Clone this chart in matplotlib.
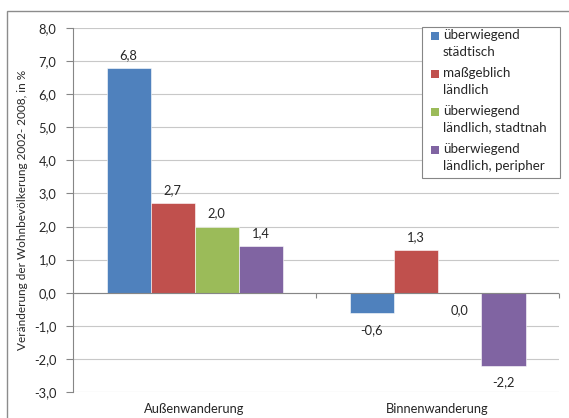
import matplotlib
matplotlib.use("Agg")
import matplotlib.pyplot as plt
from matplotlib.patches import Rectangle

plt.rcParams['font.family'] = ['Lato', 'DejaVu Sans']

categories = ["Außenwanderung", "Binnenwanderung"]
series_names = ["überwiegend\nstädtisch", "maßgeblich\nländlich",
                "überwiegend\nländlich, stadtnah", "überwiegend\nländlich, peripher"]
values = [
    [6.8, -0.6],
    [2.7, 1.3],
    [2.0, 0.0],
    [1.4, -2.2],
]
colors = ["#4F81BD", "#C0504D", "#9BBB59", "#8064A2"]
yticks = [-3, -2, -1, 0, 1, 2, 3, 4, 5, 6, 7, 8]
ylabel = "Veränderung der Wohnbevölkerung 2002- 2008, in %"

W, H = 569, 418
TXT = "#262626"
AX = "#868686"
FS = 9.3


def fx(px):
    return px / W


def fy(py):
    return 1 - py / H


fig = plt.figure(figsize=(W / 100, H / 100), dpi=100)
fig.patch.set_facecolor("white")
# outer chart border
fig.add_artist(Rectangle((fx(7), -0.05), 1.2, fy(11) + 0.05, transform=fig.transFigure,
                         fill=False, edgecolor="#8c8c8c", linewidth=1.0))

ax = fig.add_axes([fx(73), 26 / H, (559 - 73) / W, (392 - 28) / H])
ax.set_xlim(-0.5, 1.5)
ax.set_ylim(-3, 8)

bw = 44 / 243
n = len(values)
for i, (vals, c) in enumerate(zip(values, colors)):
    off = (i - (n - 1) / 2) * bw
    xs = [k + off for k in range(len(categories))]
    ax.bar(xs, vals, width=bw, color=c, edgecolor="white", linewidth=0.4, zorder=3)
    for x, v in zip(xs, vals):
        lab = f"{v:.1f}".replace(".", ",")
        if v > 0:
            ax.annotate(lab, (x, v), xytext=(0, 5), textcoords="offset points",
                        ha="center", va="bottom", fontsize=FS, color=TXT)
        else:
            ax.annotate(lab, (x, v), xytext=(0, -8), textcoords="offset points",
                        ha="center", va="top", fontsize=FS, color=TXT)

ax.set_yticks(yticks)
ax.set_yticklabels([f"{t:.1f}".replace(".", ",") for t in yticks], fontsize=FS, color=TXT)
ax.tick_params(axis="y", length=5, width=0.8, color=AX, pad=7)
ax.set_xticks([])
ax.grid(axis="y", color="#c8c8c8", linewidth=0.8, zorder=0)
ax.set_axisbelow(True)
for s in ["top", "right", "bottom"]:
    ax.spines[s].set_visible(False)
ax.spines["left"].set_color(AX)
ax.spines["left"].set_linewidth(0.8)

# zero axis line with category tick marks
ax.axhline(0, color=AX, linewidth=0.8, zorder=4)
ax.vlines([-0.5, 0.5, 1.5], -0.15, 0, color=AX, linewidth=0.8, zorder=4, clip_on=False)

for k, cat in enumerate(categories):
    ax.text(k, -11 / 364, cat, transform=ax.get_xaxis_transform(), ha="center", va="top",
            fontsize=FS, color=TXT)

ax.set_ylabel(ylabel, fontsize=8.5, color=TXT)
ax.yaxis.set_label_coords(-45 / 486, 0.5)

# legend box (Excel-style, square aligned with first text line)
fig.add_artist(Rectangle((fx(422), fy(178)), (560 - 422) / W, (178 - 27) / H,
                         transform=fig.transFigure, facecolor="white",
                         edgecolor=AX, linewidth=0.8, zorder=10))
for i, (name, c) in enumerate(zip(series_names, colors)):
    y1 = 36 + i * 38.0
    fig.add_artist(Rectangle((fx(431), fy(y1 + 4)), 8 / W, 8 / H, transform=fig.transFigure,
                             facecolor=c, edgecolor="none", zorder=11))
    fig.text(fx(443), fy(y1 - 7), name, ha="left", va="top", fontsize=9.6, color=TXT,
             linespacing=1.45, zorder=12)

fig.savefig("out.png", dpi=100)
